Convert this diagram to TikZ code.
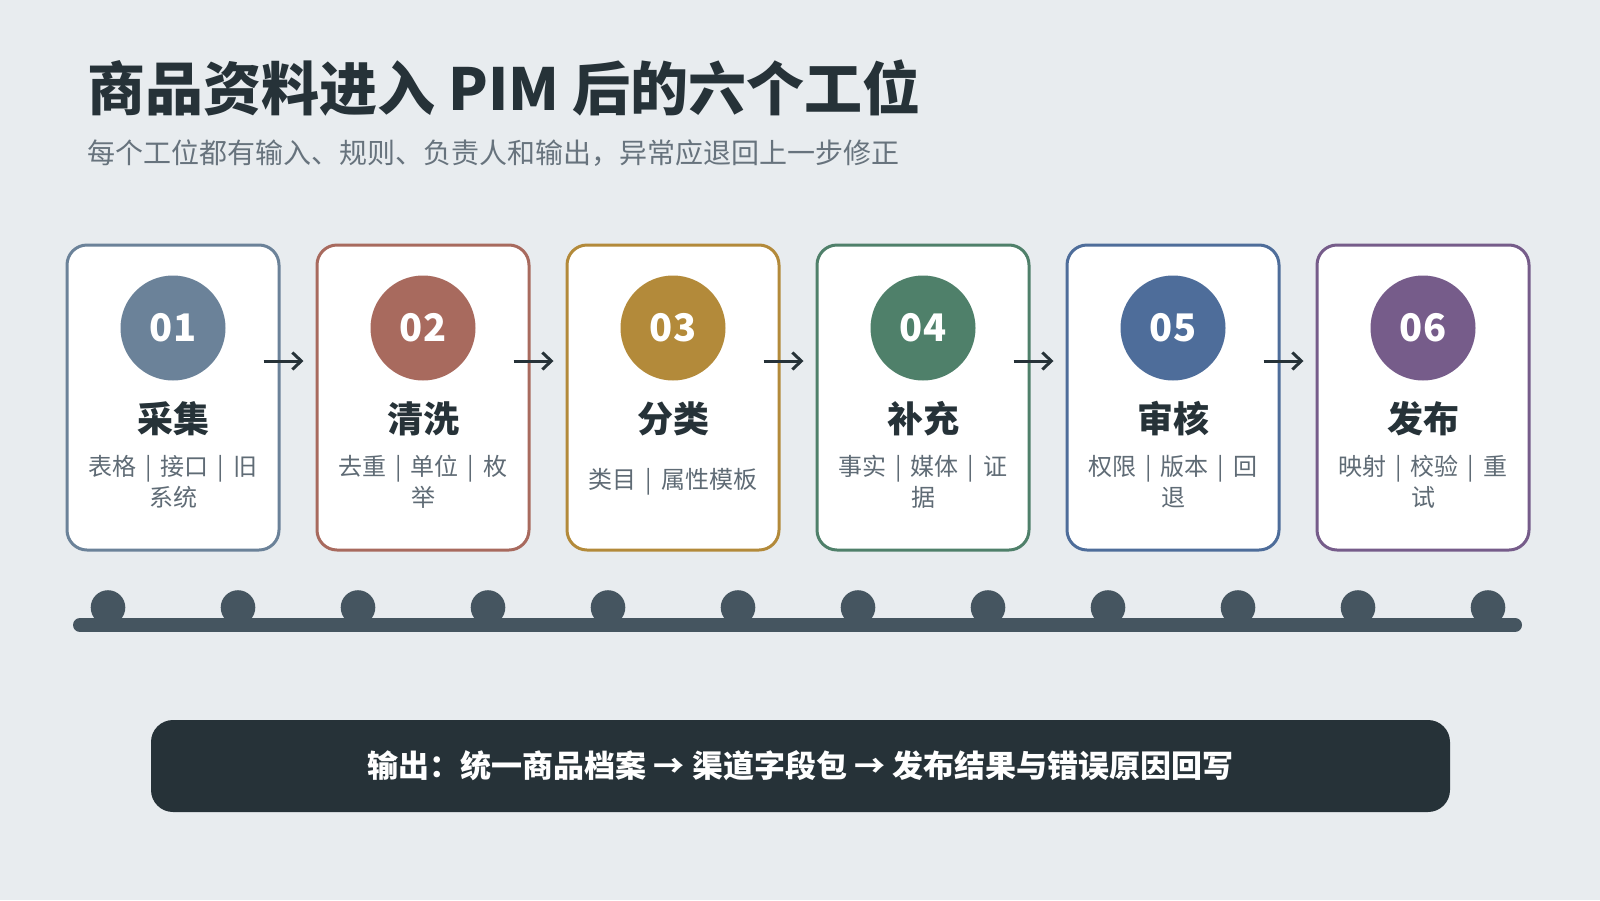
\documentclass[tikz,border=0pt]{standalone}
\usepackage{fontspec}
\setmainfont{Noto Sans CJK SC}
\usetikzlibrary{arrows.meta,calc}
\definecolor{bg}{HTML}{E8ECEF}
\definecolor{ink}{HTML}{263238}
\definecolor{sub}{HTML}{67737D}
\definecolor{desc}{HTML}{5F6B75}
\definecolor{tl}{HTML}{455560}
\definecolor{c0}{HTML}{6B8299}
\definecolor{c1}{HTML}{A86A5E}
\definecolor{c2}{HTML}{B38A3A}
\definecolor{c3}{HTML}{4F806A}
\definecolor{c4}{HTML}{4E6D9A}
\definecolor{c5}{HTML}{765C8A}
\newcommand{\barsep}{\hspace{0.37em}|\hspace{0.37em}}
\tikzset{
  cardbox/.style={draw, line width=3pt, fill=white, rounded corners=20pt, minimum width=212pt, minimum height=305pt, inner sep=0pt},
  numdisc/.style={circle, minimum size=105pt, inner sep=0pt, text=white, font=\bfseries\fontsize{38}{40}\selectfont},
  cardtitle/.style={inner sep=0pt, text=ink, font=\bfseries\fontsize{36}{40}\selectfont},
  carddesc/.style={inner sep=0pt, text=desc, align=center, font=\fontsize{24}{31}\selectfont},
  flowarrow/.style={draw=ink, line width=3pt, -{Straight Barb[length=9pt,width=17pt,line width=3pt]}},
}
\begin{document}
\begin{tikzpicture}[x=1pt,y=-1pt]
\fill[bg] (0,0) rectangle (1600,900);
\useasboundingbox (0,0) rectangle (1600,900);
% title
\node[anchor=west, inner sep=0pt, text=ink, font=\bfseries\fontsize{58}{62}\selectfont] (title) at (87,88) {商品资料进入 PIM 后的六个工位};
\node[anchor=west, inner sep=0pt, text=sub, font=\fontsize{28}{32}\selectfont] (subtitle) at (87,153) {每个工位都有输入、规则、负责人和输出，异常应退回上一步修正};
% cards
\foreach \i/\n/\t/\d in {0/01/采集/{表格\barsep 接口\barsep 旧\\系统},1/02/清洗/{去重\barsep 单位\barsep 枚\\举},2/03/分类/{类目\barsep 属性模板},3/04/补充/{事实\barsep 媒体\barsep 证\\据},4/05/审核/{权限\barsep 版本\barsep 回\\退},5/06/发布/{映射\barsep 校验\barsep 重\\试}}{
  \pgfmathsetmacro{\cx}{173+250*\i}
  \node[cardbox, draw=c\i] (card\i) at (\cx,397.5) {};
  \node[numdisc, fill=c\i] (num\i) at (\cx,328) {\n};
  \node[cardtitle] (name\i) at (\cx,419) {\t};
  \node[carddesc] (desc\i) at (\cx,482) {\d};
}
% arrows
\foreach \i in {0,...,4}{
  \draw[flowarrow] ($(card\i.east)+(-17,-36.5)$) -- ($(card\i.east)+(23,-36.5)$);
}
% timeline
\draw[tl, line width=14pt, line cap=round] (80,625) -- (1515,625);
\foreach \i in {0,...,5}{
  \fill[tl] (108+250*\i,607.5) circle (17.3);
  \fill[tl] (238+250*\i,607.5) circle (17.3);
}
% output banner
\node[fill=ink, rounded corners=22pt, minimum width=1299pt, minimum height=92pt, inner sep=0pt, text=white, font=\bfseries\fontsize{31}{34}\selectfont] (banner) at (800.5,766) {输出：统一商品档案 → 渠道字段包 → 发布结果与错误原因回写};
\end{tikzpicture}
\end{document}
